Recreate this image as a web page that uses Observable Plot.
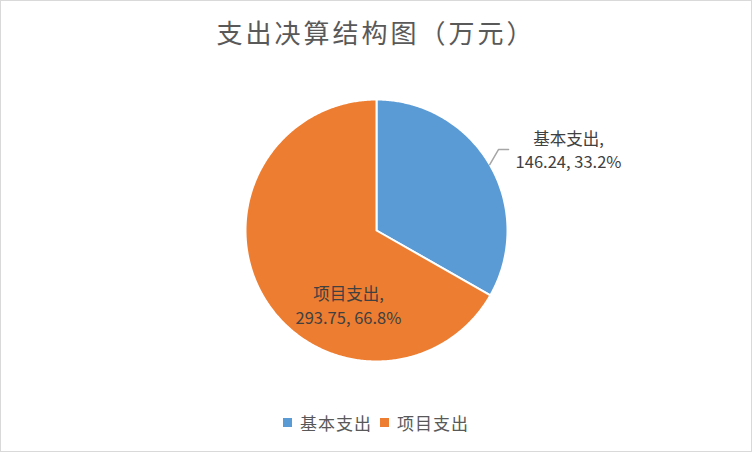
<!DOCTYPE html>
<html><head><meta charset="utf-8">
<script src="https://cdn.jsdelivr.net/npm/d3@7"></script>
<script src="https://cdn.jsdelivr.net/npm/@observablehq/plot@0.6"></script>
<style>
body{margin:0;background:#fff;}
#chart{position:relative;width:750px;height:450px;border:1px solid #d9d9d9;background:#fff;font-family:"Noto Sans CJK SC",sans-serif;overflow:hidden;}
#title{height:61px;line-height:62px;text-align:center;font-size:26px;letter-spacing:3px;color:#595959;white-space:nowrap;}
#plot svg{display:block;}
#legend{height:48px;display:flex;justify-content:center;align-items:flex-start;padding-top:8px;box-sizing:border-box;font-size:17px;letter-spacing:1px;color:#595959;}
#legend .item{display:flex;align-items:center;margin:0 4px;}
#legend .sw{width:9px;height:9px;margin-right:8px;}
</style>
</head><body>
<div id="chart">
  <div id="title"></div>
  <div id="plot"></div>
  <div id="legend"></div>
</div>
<script>
const chartTitle = "支出决算结构图（万元）";
const categories = ["基本支出", "项目支出"];
const values = [146.24, 293.75];
const valueLabels = ["146.24", "293.75"];
const percentLabels = ["33.2%", "66.8%"];

const palette = ["#5B9BD5", "#ED7D31"];

document.getElementById("title").textContent = chartTitle;

// pie geometry from data (angle 0 at 12 o'clock, clockwise)
const arcs = d3.pie().sort(null)(values);
const slicePts = [];
arcs.forEach((a, i) => {
  const n = Math.max(4, Math.ceil((a.endAngle - a.startAngle) / 0.01));
  slicePts.push({cat: categories[i], x: 0, y: 0});
  for (let k = 0; k <= n; k++) {
    const t = a.startAngle + (a.endAngle - a.startAngle) * k / n;
    slicePts.push({cat: categories[i], x: Math.sin(t), y: Math.cos(t)});
  }
  slicePts.push({cat: categories[i], x: 0, y: 0});
});

// label placement (layout, in unit-radius coordinates)
const labelPos = [{x: 1.466, y: 0.62}, {x: -0.214, y: -0.565}];
const labels = categories.map((c, i) => ({
  cat: c,
  x: labelPos[i].x,
  y: labelPos[i].y,
  text: `${c},\n${valueLabels[i]}, ${percentLabels[i]}`
}));
// leader line for the outside label (starts at the slice's mid-angle edge)
const a0 = arcs[0];
const mid0 = (a0.startAngle + a0.endAngle) / 2;
const leader = [
  {x: Math.sin(mid0), y: Math.cos(mid0)},
  {x: 0.931, y: 0.618},
  {x: 1.008, y: 0.618}
];

const cx = 376, cy = 168, r = 131;
const plot = Plot.plot({
  width: 750,
  height: 340,
  margin: 0,
  style: {background: "transparent", overflow: "visible"},
  x: {domain: [-1, 1], range: [cx - 1 - r, cx - 1 + r], axis: null},
  y: {domain: [-1, 1], range: [cy + r, cy - r], axis: null},
  color: {domain: categories, range: palette},
  marks: [
    Plot.line(slicePts, {x: "x", y: "y", z: "cat", fill: "cat", stroke: "#ffffff", strokeWidth: 2, strokeLinejoin: "round", curve: "linear"}),
    Plot.line(leader, {x: "x", y: "y", stroke: "#a6a6a6", strokeWidth: 1.5}),
    Plot.text(labels, {x: "x", y: "y", text: "text", fill: "#404040", fontSize: 16.5, lineHeight: 1.42, fontFamily: "\"Noto Sans CJK SC\", sans-serif"})
  ]
});
document.getElementById("plot").appendChild(plot);

const legend = document.getElementById("legend");
categories.forEach((c, i) => {
  const item = document.createElement("div");
  item.className = "item";
  const sw = document.createElement("span");
  sw.className = "sw";
  sw.style.background = palette[i];
  const tx = document.createElement("span");
  tx.textContent = c;
  item.appendChild(sw);
  item.appendChild(tx);
  legend.appendChild(item);
});
</script>
</body></html>
